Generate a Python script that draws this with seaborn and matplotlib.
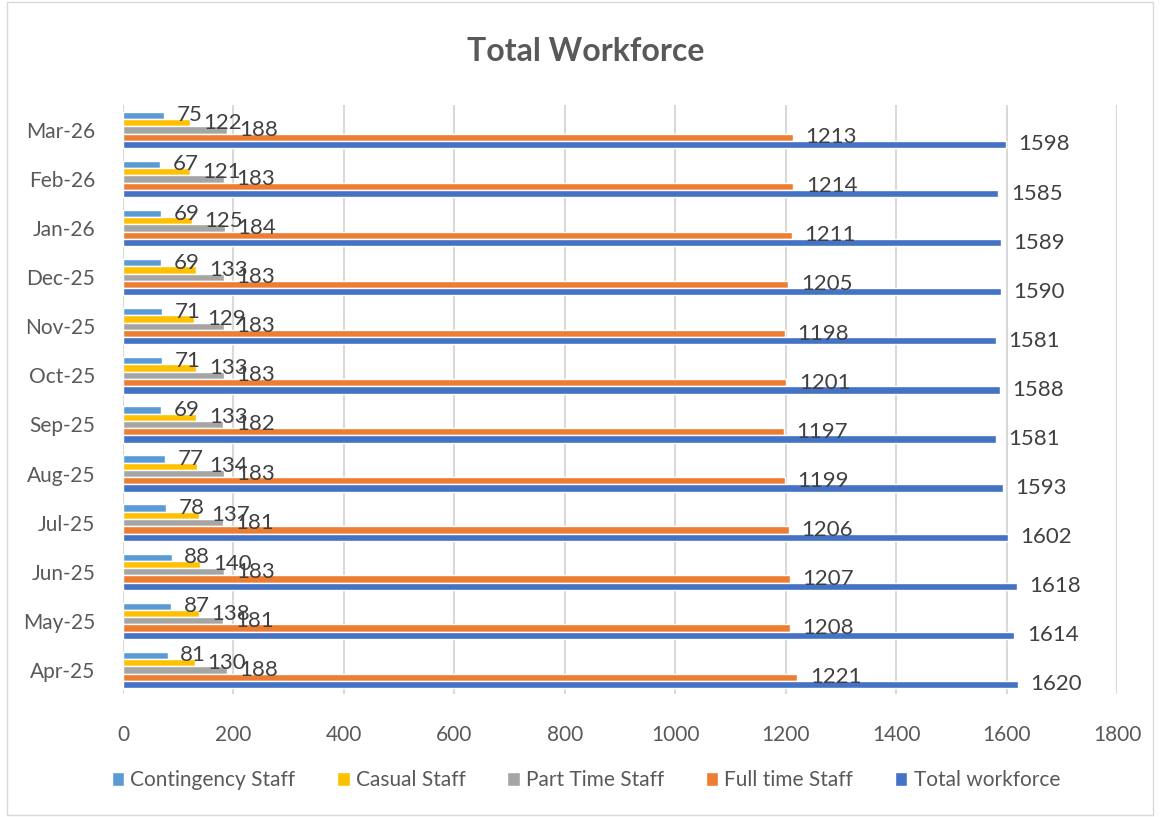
import matplotlib
matplotlib.use("Agg")
import matplotlib.pyplot as plt
import seaborn as sns
import pandas as pd
from matplotlib.patches import Rectangle

months = ["Apr-25", "May-25", "Jun-25", "Jul-25", "Aug-25", "Sep-25",
          "Oct-25", "Nov-25", "Dec-25", "Jan-26", "Feb-26", "Mar-26"]
contingency = [81, 87, 88, 78, 77, 69, 71, 71, 69, 69, 67, 75]
casual = [130, 138, 140, 137, 134, 133, 133, 129, 133, 125, 121, 122]
part_time = [188, 181, 183, 181, 183, 182, 183, 183, 183, 184, 183, 188]
full_time = [1221, 1208, 1207, 1206, 1199, 1197, 1201, 1198, 1205, 1211, 1214, 1213]
total = [1620, 1614, 1618, 1602, 1593, 1581, 1588, 1581, 1590, 1589, 1585, 1598]

series_names = ["Contingency Staff", "Casual Staff", "Part Time Staff",
                "Full time Staff", "Total workforce"]
colors = ["#5B9BD5", "#FFC000", "#A5A5A5", "#ED7D31", "#4472C4"]
x_ticks = [0, 200, 400, 600, 800, 1000, 1200, 1400, 1600, 1800]

df = pd.DataFrame({"Month": months,
                   series_names[0]: contingency,
                   series_names[1]: casual,
                   series_names[2]: part_time,
                   series_names[3]: full_time,
                   series_names[4]: total})
long = df.melt(id_vars="Month", var_name="Series", value_name="Value")

sns.set_theme(style="white")
plt.rcParams["font.family"] = ["Lato", "DejaVu Sans"]

fig = plt.figure(figsize=(11.6, 8.17), dpi=100)
ax = fig.add_axes([0.106, 0.150, 0.857, 0.721])

sns.barplot(data=long, y="Month", x="Value", hue="Series", orient="h",
            order=months[::-1], hue_order=series_names,
            palette=colors, width=0.74, gap=0, saturation=1,
            errorbar=None, ax=ax, legend=True)

for cont in ax.containers:
    ax.bar_label(cont, fmt="%d", padding=9, fontsize=16, color="#404040")

ax.set_xlim(0, 1800)
ax.set_xticks(x_ticks)
ax.set_xticklabels([str(t) for t in x_ticks])
ax.set_xlabel("")
ax.set_ylabel("")
ax.grid(axis="x", color="#D9D9D9", linewidth=1.5)
ax.set_axisbelow(True)
for s in ax.spines.values():
    s.set_visible(False)
ax.tick_params(axis="x", colors="#595959", labelsize=15, length=0, pad=22)
ax.tick_params(axis="y", colors="#595959", labelsize=15, length=0, pad=20)

ax.legend(loc="center", bbox_to_anchor=(0.505, 0.045),
          bbox_transform=fig.transFigure, ncol=5,
          frameon=False, fontsize=15, handlelength=0.6, handleheight=0.6,
          handletextpad=0.3, columnspacing=2.0, labelcolor="#595959")

fig.text(0.505, 0.937, "Total Workforce", ha="center", va="center",
         fontsize=23, fontweight="bold", color="#595959")

fig.patches.append(Rectangle((0.006, 0.003), 0.988, 0.994, transform=fig.transFigure,
                             fill=False, edgecolor="#D9D9D9", linewidth=1))

fig.savefig("out.png", dpi=100)
